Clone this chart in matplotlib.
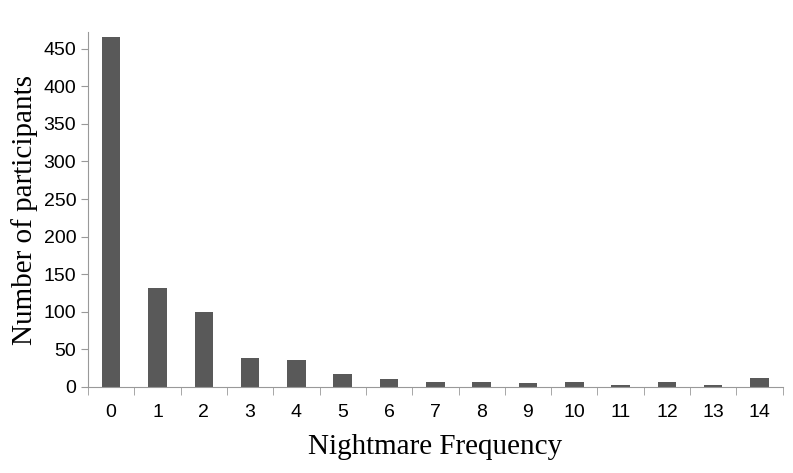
import matplotlib
matplotlib.use("Agg")
import matplotlib.pyplot as plt
import numpy as np

categories = [str(i) for i in range(15)]
counts = [465, 132, 100, 39, 36, 17, 10, 6, 6, 5, 7, 3, 6, 2, 12]

fig = plt.figure(figsize=(7.93, 4.73), dpi=100)
ax = fig.add_axes([0.111, 0.182, 0.876, 0.75])
x = np.arange(len(counts))
ax.bar(x, counts, width=0.4, color="#595959")

ax.set_xlim(-0.5, len(counts) - 0.5)
ax.set_ylim(0, 472)
ax.set_yticks(range(0, 451, 50))
ax.set_xticks(x)
ax.set_xticklabels(categories)
ax.set_xticks(np.arange(-0.5, len(counts), 1), minor=True)
ax.tick_params(axis="x", which="major", length=0, pad=12)
ax.tick_params(axis="x", which="minor", length=6, color="#999999")
ax.tick_params(axis="y", length=5, color="#999999")
ax.tick_params(labelsize=14)
for lab in ax.get_xticklabels() + ax.get_yticklabels():
    lab.set_family("Liberation Sans")

for s in ["top", "right"]:
    ax.spines[s].set_visible(False)
for s in ["left", "bottom"]:
    ax.spines[s].set_color("#999999")

ax.set_xlabel("Nightmare Frequency", fontsize=21, family="Liberation Serif", labelpad=10)
ax.set_ylabel("Number of participants", fontsize=21, family="Liberation Serif", labelpad=4)

fig.savefig("out.png", dpi=100)
